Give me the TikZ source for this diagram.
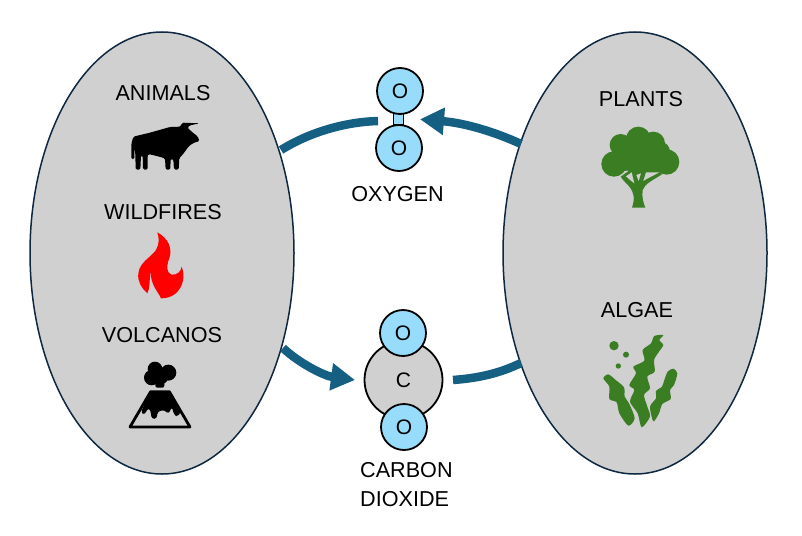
\documentclass[tikz,border=0pt]{standalone}
\usepackage{fontspec}
\setmainfont{Liberation Sans}
\usetikzlibrary{shapes.geometric,arrows.meta}
\definecolor{arrowblue}{HTML}{156082}
\definecolor{blobgray}{HTML}{D0D0D0}
\definecolor{blobline}{HTML}{0E2841}
\definecolor{atomblue}{HTML}{97DCFA}
\definecolor{leafgreen}{HTML}{3B7D23}
\tikzset{
  blob/.style={ellipse,draw=blobline,fill=blobgray,line width=1.5pt,minimum width=264pt,minimum height=442pt,inner sep=0pt},
  lbl/.style={font=\fontsize{21.6}{25}\selectfont,text=black,inner sep=0pt},
  atom/.style={circle,draw=black,line width=1.8pt,fill=atomblue,minimum size=46pt,inner sep=0pt,font=\fontsize{21}{25}\selectfont},
  carbon/.style={atom,fill=blobgray,minimum size=78pt},
  bond/.style={rectangle,draw=black,line width=1.8pt,fill=atomblue,minimum width=10pt,minimum height=12pt,inner sep=0pt},
  flow/.style={draw=arrowblue,line width=8.5pt},
  flowtip/.style={flow,-{Triangle[length=24pt,width=26pt,fill=arrowblue]}},
  icon/.style={x=1pt,y=-1pt,scale=0.3333},
}
\begin{document}
\begin{tikzpicture}[x=1pt,y=-1pt]
\useasboundingbox (0,0) rectangle (802,535);
\node[blob] (left) at (162,253) {};
\node[blob] (right) at (635,253) {};

% connector ends
\coordinate (a1) at (281,150);
\coordinate (a2) at (378,121);
\coordinate (b1) at (521,144);
\coordinate (b2) at (420,119.3);
\coordinate (c1) at (283,348);
\coordinate (c2) at (355,380);
\coordinate (d1) at (521,363);
\coordinate (d2) at (453,380);

\draw[flow] (a1) .. controls (310,132) and (345,122) .. (a2);
\draw[flowtip] (b1) .. controls (495,132) and (465,123) .. (b2);
\draw[flowtip] (c1) .. controls (300,364) and (325,376) .. (c2);
\draw[flow] (d1) .. controls (500,373) and (480,378) .. (d2);

% oxygen
\node[bond] (bond) at (398.5,119) {};
\node[atom] (o1) at (400,91) {O};
\node[atom] (o2) at (399,148) {O};
\node[lbl] (oxy) at (397.5,194) {OXYGEN};

% carbon dioxide
\node[carbon] (c) at (403.5,380) {C};
\node[atom] (o3) at (403,333) {O};
\node[atom] (o4) at (404,427) {O};
\node[lbl,anchor=west] (carb) at (360,470.5) {CARBON};
\node[lbl,anchor=west] (diox) at (360,499.5) {DIOXIDE};

% labels
\node[lbl] (animals) at (163,93) {ANIMALS};
\node[lbl] (wild) at (163,212) {WILDFIRES};
\node[lbl] (volc) at (162,335) {VOLCANOS};
\node[lbl] (plants) at (641,99) {PLANTS};
\node[lbl] (algae) at (637,310) {ALGAE};

% bull
\begin{scope}[shift={(90,70)},icon]
\fill[black,rounded corners=1.5pt] (124,268) -- (124,222) -- (130,200) -- (180,188) -- (240,171) -- (272,170)
 -- (276,158) -- (329,160) -- (300,166) -- (292,172) -- (306,186) -- (322,198) -- (329,213) -- (310,219)
 -- (297,228) -- (278,254) -- (268,264) -- (266,299) -- (252,299) -- (250,268) -- (242,266) -- (241,299)
 -- (227,299) -- (225,265) -- (200,258) -- (175,252) -- (173,256) -- (173,299) -- (159,299) -- (158,256)
 -- (153,256) -- (151,299) -- (137,299) -- (136,250) -- (133,232) -- (133,268) -- cycle;
\end{scope}

% flame
\begin{scope}[shift={(100,220)},icon]
\fill[red] (172,37) .. controls (205,55) and (218,85) .. (208,115)
 .. controls (198,140) and (200,160) .. (215,164)
 .. controls (232,165) and (243,155) .. (245,140)
 .. controls (255,165) and (252,200) .. (225,222)
 .. controls (212,232) and (197,235) .. (183,235)
 .. controls (175,215) and (150,195) .. (152,150)
 .. controls (148,180) and (150,205) .. (142,220)
 .. controls (125,205) and (112,185) .. (115,160)
 .. controls (120,125) and (150,115) .. (168,90)
 .. controls (178,72) and (178,55) .. (172,37) -- cycle;
\end{scope}

% volcano
\begin{scope}[shift={(100,220)},icon]
\fill[black] (155,473) circle[radius=23] (165,447) circle[radius=22] (205,458) circle[radius=24] (180,468) circle[radius=26];
\fill[black,rounded corners=2pt] (166,480) rectangle (193,503);
\draw[black,line width=2.8pt,line join=round] (152,515) -- (208,515) -- (270,621) -- (90,621) -- cycle;
\fill[black,rounded corners=3pt] (152,515) -- (208,515) -- (243,575) -- (234,590) -- (222,585) -- (216,560) -- (206,582)
 -- (195,572) -- (190,570) -- (172,575) -- (171,596) -- (155,597) -- (150,565) -- (140,568) -- (135,585) -- (122,578) -- cycle;
\end{scope}

% tree
\begin{scope}[shift={(590,115)},icon]
\fill[leafgreen] (72,147) circle[radius=38] (92,90) circle[radius=33] (145,72) circle[radius=37]
 (190,85) circle[radius=35] (230,141) circle[radius=38] (210,110) circle[radius=30] (145,122) circle[radius=55]
 (105,130) circle[radius=38] (185,130) circle[radius=40];
\fill[leafgreen] (126,278) .. controls (135,250) and (133,235) .. (118,215)
 .. controls (110,205) and (100,198) .. (92,185) -- (120,165) -- (205,165) -- (216,178)
 .. controls (190,195) and (165,205) .. (158,225) .. controls (155,245) and (160,265) .. (166,278) -- cycle;
\fill[blobgray] (108,184) -- (125,172) -- (133,205) .. controls (125,198) and (115,192) .. (108,184) -- cycle;
\fill[blobgray] (139,180) -- (153,175) -- (146,198) -- cycle;
\fill[blobgray] (168,172) -- (208,172) .. controls (190,182) and (172,190) .. (160,198) -- cycle;
\end{scope}

% algae
\begin{scope}[shift={(590,330)},icon]
\fill[leafgreen] (72,47) circle[radius=14] (108,74) circle[radius=9] (85,108) circle[radius=8];
\fill[leafgreen] plot[smooth cycle,tension=0.45] coordinates {(220,15) (208,30) (220,45) (207,65) (192,90) (194,125) (172,140) (180,175) (162,195) (172,230) (180,260) (155,292) (143,250) (120,215) (133,180) (118,165) (138,130) (130,110) (163,92) (158,60) (183,40) (193,18)};
\fill[leafgreen] plot[smooth cycle,tension=0.45] coordinates {(40,145) (55,133) (77,150) (102,172) (104,200) (117,220) (134,265) (115,287) (88,250) (80,217) (58,207) (58,170)};
\fill[leafgreen] plot[smooth cycle,tension=0.45] coordinates {(233,125) (250,116) (262,130) (252,165) (240,180) (242,207) (217,222) (207,250) (190,274) (180,230) (198,205) (198,183) (216,170) (223,150)};
\end{scope}
\end{tikzpicture}
\end{document}
